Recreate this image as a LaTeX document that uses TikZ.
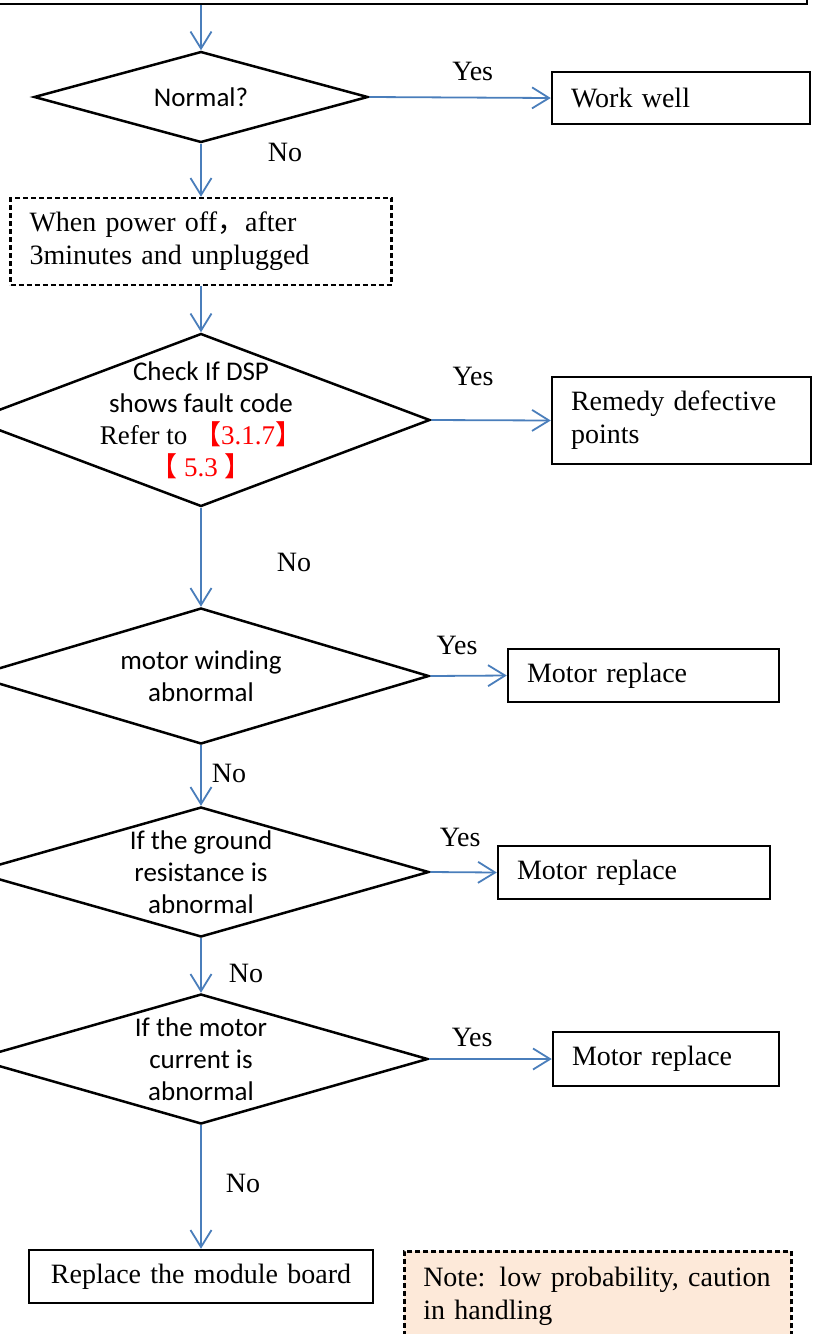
\documentclass[tikz,border=0pt]{standalone}
\usepackage{fontspec}
\setmainfont{Liberation Serif}
\newfontfamily\calibri{Carlito}
\newfontfamily\cjk{Noto Sans CJK SC}
\usetikzlibrary{shapes.geometric, arrows.meta, positioning}
\definecolor{flowblue}{RGB}{74,126,187}
\definecolor{notepeach}{RGB}{253,233,217}

\begin{document}
\begin{tikzpicture}[x=1pt, y=-1pt,
    box/.style={draw, line width=2.5pt, inner xsep=19pt, inner ysep=0pt, align=left, font=\fontsize{28}{33}\selectfont},
    decision/.style 2 args={diamond, draw, line width=2.5pt, inner sep=0pt, minimum width=#1, minimum height=#2},
    dtext/.style={align=center, inner sep=0pt, font=\calibri\fontsize{27}{32}\selectfont},
    answer/.style={inner sep=2pt, font=\fontsize{28}{33}\selectfont},
    flow/.style={draw=flowblue, line width=1.8pt, -{Straight Barb[length=17pt, width=21pt]}}]
    \useasboundingbox (0,0) rectangle (818,1334);
    \clip (0,0) rectangle (818,1334);
    % Boxes
    \node[box, minimum width=830pt, minimum height=80pt, anchor=south east] (head) at (808,5) {};
    \node[box, text width=220pt, minimum height=52pt] (work) at (681,98) {Work well};
    \node[box, dash pattern=on 5pt off 3pt, text width=343pt, minimum height=87pt] (wait) at (201,241.5)
        {When power off{\cjk ，}after\\3minutes and unplugged};
    \node[box, text width=221pt, minimum height=87pt] (remedy) at (681.5,420.5) {Remedy defective\\points};
    \node[box, text width=233pt, minimum height=53pt] (motorA) at (643.5,675.5) {Motor replace};
    \node[box, text width=234pt, minimum height=53pt] (motorB) at (634,872.5) {Motor replace};
    \node[box, text width=188pt, minimum height=54pt] (motorC) at (666,1059) {Motor replace};
    \node[box, align=center, text width=306pt, minimum height=53pt] (module) at (201,1276.5) {Replace the module board};
    \node[box, dash pattern=on 5pt off 3pt, fill=notepeach, text width=349pt, minimum height=90pt, anchor=north west] (note) at (403,1250)
        {Note: low probability, caution\\in handling};
    % Decisions
    \node[decision={334pt}{91pt}, label={[dtext]center:Normal?}] (normal) at (201,97) {};
    \node[decision={458pt}{173pt}, label={[dtext]center:{Check If DSP\\shows fault code\\
        {\rmfamily Refer to \textcolor{red}{{\cjk 【}3.1.7{\cjk 】}}}\\
        {\rmfamily\textcolor{red}{{\cjk 【} 5.3 {\cjk 】}}}}}] (dsp) at (201,420) {};
    \node[decision={456pt}{136pt}, label={[dtext]center:{motor winding\\abnormal}}] (winding) at (201,676) {};
    \node[decision={456pt}{130pt}, label={[dtext]center:{If the ground\\resistance is\\abnormal}}] (ground) at (201,872) {};
    \node[decision={454pt}{130pt}, label={[dtext]center:{If the motor\\current is\\abnormal}}] (current) at (201,1059) {};
    % Connectors
    \draw[flow] (normal.north |- head.south) -- (normal.north);
    \draw[flow] (normal.east) -- node[answer, pos=0.57, above=14pt] {Yes} (work.west);
    \draw[flow] (normal.south) -- node[answer, pos=0.16, right=64pt] {No} (wait.north);
    \draw[flow] (wait.south) -- (dsp.north);
    \draw[flow] (dsp.east) -- node[answer, pos=0.35, above=32pt] {Yes} (remedy.west);
    \draw[flow] (dsp.south) -- node[answer, pos=0.55, right=73pt] {No} (winding.north);
    \draw[flow] (winding.east) -- node[answer, pos=0.35, above=18pt] {Yes} (motorA.west);
    \draw[flow] (winding.south) -- node[answer, pos=0.47, right=8pt] {No} (ground.north);
    \draw[flow] (ground.east) -- node[answer, pos=0.45, above=23pt] {Yes} (motorB.west);
    \draw[flow] (ground.south) -- node[answer, pos=0.64, right=25pt] {No} (current.north);
    \draw[flow] (current.east) -- node[answer, pos=0.35, above=9pt] {Yes} (motorC.west);
    \draw[flow] (current.south) -- node[answer, pos=0.47, right=22pt] {No} (module.north);
\end{tikzpicture}
\end{document}
